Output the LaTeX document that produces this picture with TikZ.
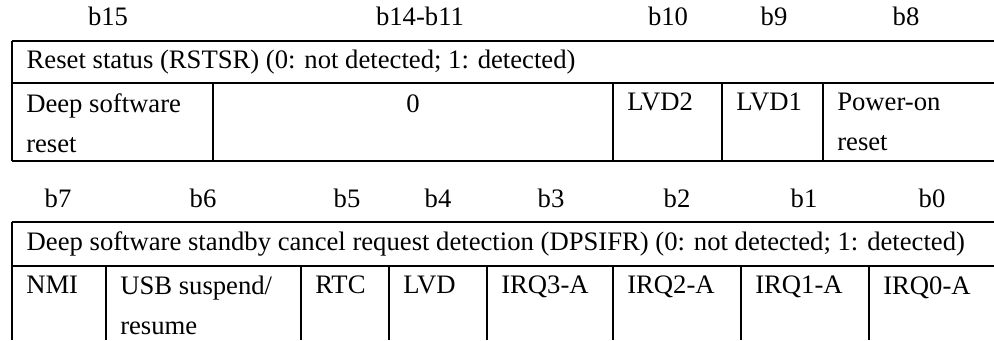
\documentclass[tikz,border=0pt]{standalone}
\usepackage{fontspec}
\setmainfont{Liberation Serif}

\begin{document}
\begin{tikzpicture}[x=0.75pt,y=-0.75pt,font=\fontsize{20}{30}\selectfont,
  rule/.style={line width=2.2pt},
  bitlbl/.style={anchor=center},
  celltxt/.style={anchor=north west,align=left,inner sep=0pt}]
  \useasboundingbox (0,0) rectangle (994,340);
  % register RSTSR
  \draw[rule] (12,41) -- (994,41);
  \draw[rule] (12,83) -- (994,83);
  \draw[rule] (12,161) -- (994,161);
  \draw[rule] (12,41) -- (12,161);
  \foreach \xc in {213,613,722,823}
    \draw[rule] (\xc,83) -- (\xc,161);
  \node[bitlbl] (b15) at (108,16) {b15};
  \node[bitlbl] (b14) at (420,16) {b14-b11};
  \node[bitlbl] (b10) at (668,16) {b10};
  \node[bitlbl] (b9) at (774,16) {b9};
  \node[bitlbl] (b8) at (906,16) {b8};
  \node[anchor=west] (rsttitle) at (22,62) {Reset status (RSTSR) (0: not detected; 1: detected)};
  \node[celltxt] (deepsw) at (26,93) {Deep software\\reset};
  \node[anchor=center] (zero) at (413,104) {0};
  \node[celltxt] (lvdtwo) at (627,93) {LVD2};
  \node[celltxt] (lvdone) at (736,93) {LVD1};
  \node[celltxt] (poweron) at (837,93) {Power-on\\reset};
  % register DPSIFR
  \draw[rule] (12,222) -- (994,222);
  \draw[rule] (12,266) -- (994,266);
  \draw[rule] (12,222) -- (12,340);
  \foreach \xc in {106,301,389,487,613,741,869}
    \draw[rule] (\xc,266) -- (\xc,340);
  \node[bitlbl] (b7) at (58,198) {b7};
  \node[bitlbl] (b6) at (203,198) {b6};
  \node[bitlbl] (b5) at (347,198) {b5};
  \node[bitlbl] (b4) at (438,198) {b4};
  \node[bitlbl] (b3) at (551,198) {b3};
  \node[bitlbl] (b2) at (677,198) {b2};
  \node[bitlbl] (b1) at (804,198) {b1};
  \node[bitlbl] (b0) at (932,198) {b0};
  \node[anchor=west] (dpstitle) at (22,244) {Deep software standby cancel request detection (DPSIFR) (0: not detected; 1: detected)};
  \node[celltxt] (nmi) at (26,276) {NMI};
  \node[celltxt] (usb) at (120,276) {USB suspend/\\resume};
  \node[celltxt] (rtc) at (315,276) {RTC};
  \node[celltxt] (lvd) at (403,276) {LVD};
  \node[celltxt] (irqthree) at (501,276) {IRQ3-A};
  \node[celltxt] (irqtwo) at (627,276) {IRQ2-A};
  \node[celltxt] (irqone) at (755,276) {IRQ1-A};
  \node[celltxt] (irqzero) at (883,276) {IRQ0-A};
\end{tikzpicture}
\end{document}
